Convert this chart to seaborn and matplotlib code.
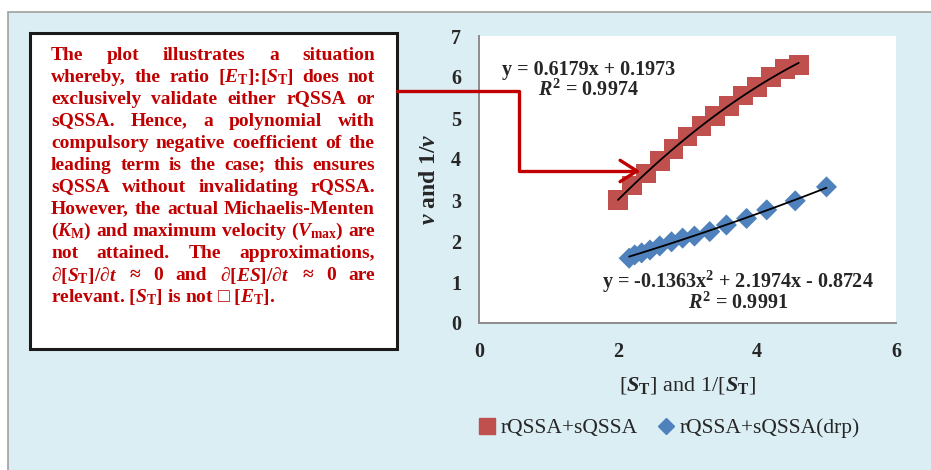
import numpy as np
import pandas as pd
import matplotlib
matplotlib.use("Agg")
import matplotlib.pyplot as plt
import seaborn as sns
from matplotlib.patches import Rectangle, FancyArrowPatch
from matplotlib.path import Path
from matplotlib.lines import Line2D

# ---- data -------------------------------------------------------------
series_names = ["rQSSA+sQSSA", "rQSSA+sQSSA(drp)"]

red_x = [2.00, 2.20, 2.40, 2.60, 2.80, 3.00, 3.20, 3.40, 3.60, 3.80, 4.00, 4.20, 4.40, 4.60]
red_y = [3.00, 3.35, 3.65, 3.95, 4.25, 4.55, 4.80, 5.05, 5.30, 5.55, 5.75, 6.00, 6.20, 6.30]

blue_x = [2.16, 2.24, 2.34, 2.46, 2.60, 2.77, 2.93, 3.10, 3.32, 3.56, 3.85, 4.14, 4.55, 5.00]
blue_y = [1.58, 1.66, 1.71, 1.78, 1.88, 1.98, 2.07, 2.12, 2.23, 2.39, 2.55, 2.76, 2.98, 3.32]

x_ticks = [0, 2, 4, 6]
y_ticks = [0, 1, 2, 3, 4, 5, 6, 7]

red_eq = ["y = 0.6179x + 0.1973", "$R^{2}$ = 0.9974"]
blue_eq = ["y = -0.1363x$^{2}$ + 2.1974x - 0.8724", "$R^{2}$ = 0.9991"]

note_lines = [
    "The plot illustrates a situation",
    "whereby, the ratio [$E_{\\mathrm{T}}$]:[$S_{\\mathrm{T}}$] does not",
    "exclusively validate either rQSSA or",
    "sQSSA. Hence, a polynomial with",
    "compulsory negative coefficient of the",
    "leading term is the case; this ensures",
    "sQSSA without invalidating rQSSA.",
    "However, the actual Michaelis-Menten",
    "($K_{\\mathrm{M}}$) and maximum velocity ($V_{\\mathrm{max}}$) are",
    "not attained. The approximations,",
    "\u2202[$S_{\\mathrm{T}}$]/\u2202$t$ \u2248 0 and \u2202[$ES$]/\u2202$t$ \u2248 0 are",
    "relevant. [$S_{\\mathrm{T}}$] is not \u25a1 [$E_{\\mathrm{T}}$].",
]

df = pd.DataFrame({
    "x": red_x + blue_x,
    "y": red_y + blue_y,
    "series": [series_names[0]] * len(red_x) + [series_names[1]] * len(blue_x),
})

# ---- style ------------------------------------------------------------
sns.set_style("white")
plt.rcParams["font.family"] = ["Liberation Serif", "DejaVu Sans"]
plt.rcParams["mathtext.fontset"] = "custom"
plt.rcParams["mathtext.rm"] = "Liberation Serif:bold"
plt.rcParams["mathtext.it"] = "Liberation Serif:italic:bold"
plt.rcParams["mathtext.bf"] = "Liberation Serif:bold"

RED = "#C0504D"
BLUE = "#4F81BD"
NOTE_RED = "#C00000"
PANEL = "#DBEEF4"
GREY = "#8C8C8C"

W, H = 931, 470
fig = plt.figure(figsize=(W / 100, H / 100), dpi=100, facecolor="white")


def fx(px):
    return px / W


def fy(py):
    return 1 - py / H


# light blue panel behind everything
fig.add_artist(Rectangle((fx(8), -0.01), 1.0, fy(12) + 0.01, transform=fig.transFigure,
                         facecolor=PANEL, edgecolor="#A0A0A0", linewidth=1.2, zorder=0))

# ---- chart ------------------------------------------------------------
ax = fig.add_axes([fx(479), fy(323), fx(896) - fx(479), fy(36) - fy(323)])
ax.set_facecolor("white")

sns.scatterplot(data=df, x="x", y="y", hue="series", style="series",
                palette={series_names[0]: RED, series_names[1]: BLUE},
                markers={series_names[0]: "s", series_names[1]: "D"},
                size="series", sizes={series_names[0]: 200, series_names[1]: 115},
                linewidth=0, alpha=1, legend=False, ax=ax, zorder=3)

for xs, ys in ((red_x, red_y), (blue_x, blue_y)):
    sns.regplot(x=np.array(xs), y=np.array(ys), order=2, ci=None, scatter=False,
                truncate=True, color="black", line_kws={"linewidth": 1.3, "zorder": 4}, ax=ax)

ax.set_xlim(0, 6)
ax.set_ylim(0, 7)
ax.set_xticks(x_ticks)
ax.set_yticks(y_ticks)
ax.set_xticklabels([str(t) for t in x_ticks])
ax.set_yticklabels([str(t) for t in y_ticks])
for sp in ("top", "right"):
    ax.spines[sp].set_visible(False)
for sp in ("left", "bottom"):
    ax.spines[sp].set_color(GREY)
    ax.spines[sp].set_linewidth(1.4)
ax.tick_params(axis="both", direction="out", length=5, width=1.2, color=GREY,
               labelsize=14.5)
for lab in ax.get_xticklabels() + ax.get_yticklabels():
    lab.set_fontweight("bold")
ax.xaxis.set_tick_params(pad=9)
ax.yaxis.set_tick_params(pad=8)

ax.set_xlabel("[$S_{\\mathrm{T}}$] and 1/[$S_{\\mathrm{T}}$]", fontsize=16, labelpad=9)
ax.set_ylabel("$v$ and 1/$v$", fontsize=17, fontweight="bold", labelpad=8)

# trendline equations
eq_kw = dict(ha="center", va="baseline", fontsize=14.5, fontweight="bold")
ax.text(1.58, 6.05, red_eq[0], **eq_kw)
ax.text(1.58, 5.55, red_eq[1], **eq_kw)
ax.text(3.73, 0.87, blue_eq[0], **eq_kw)
ax.text(3.73, 0.34, blue_eq[1], **eq_kw)

# legend
handles = [Line2D([], [], marker="s", color=RED, linestyle="none", markersize=11),
           Line2D([], [], marker="D", color=BLUE, linestyle="none", markersize=8)]
fig.legend(handles, series_names, loc="center", bbox_to_anchor=(fx(668), fy(428)),
           ncol=2, frameon=False, fontsize=15.5, handletextpad=0.15, columnspacing=0.8,
           handlelength=1.0)

# ---- note box ---------------------------------------------------------
fig.add_artist(Rectangle((fx(30), fy(349)), fx(397) - fx(30), fy(33) - fy(349),
                         transform=fig.transFigure, facecolor="white", edgecolor="#1a1a1a",
                         linewidth=2.2, zorder=1))

renderer = fig.canvas.get_renderer()
left_px, right_px = 51, 375
top_px, step_px = 55, 22

# pick a size so the longest line just fills the box width
probe_size = 12.0
probe = [fig.text(0, 0, ln, fontsize=probe_size, fontweight="bold") for ln in note_lines]
longest = max(p.get_window_extent(renderer).width for p in probe)
for p in probe:
    p.remove()
note_size = probe_size * (right_px - left_px) / longest * 0.995

for i, line in enumerate(note_lines):
    ypos = fy(top_px + i * step_px)
    if i == len(note_lines) - 1:
        fig.text(fx(left_px), ypos, line, color=NOTE_RED, fontsize=note_size, fontweight="bold",
                 va="center", ha="left", zorder=2)
        continue
    words = line.split(" ")
    texts = [fig.text(0, ypos, w, color=NOTE_RED, fontsize=note_size, fontweight="bold",
                      va="center", ha="left", zorder=2) for w in words]
    widths = [t.get_window_extent(renderer).width for t in texts]
    gap = (right_px - left_px - sum(widths)) / max(len(words) - 1, 1)
    xcur = left_px
    for t, wdt in zip(texts, widths):
        t.set_x(fx(xcur))
        xcur += wdt + gap

# elbow arrow from the note to the red series
verts = [(fx(397), fy(91)), (fx(519), fy(91)), (fx(519), fy(171)), (fx(640), fy(171))]
arrow = FancyArrowPatch(path=Path(verts), transform=fig.transFigure,
                        arrowstyle="->,head_length=0.55,head_width=0.35",
                        mutation_scale=22, color=NOTE_RED, linewidth=2.4, zorder=5)
fig.add_artist(arrow)

fig.savefig("out.png", dpi=100, facecolor="white")
